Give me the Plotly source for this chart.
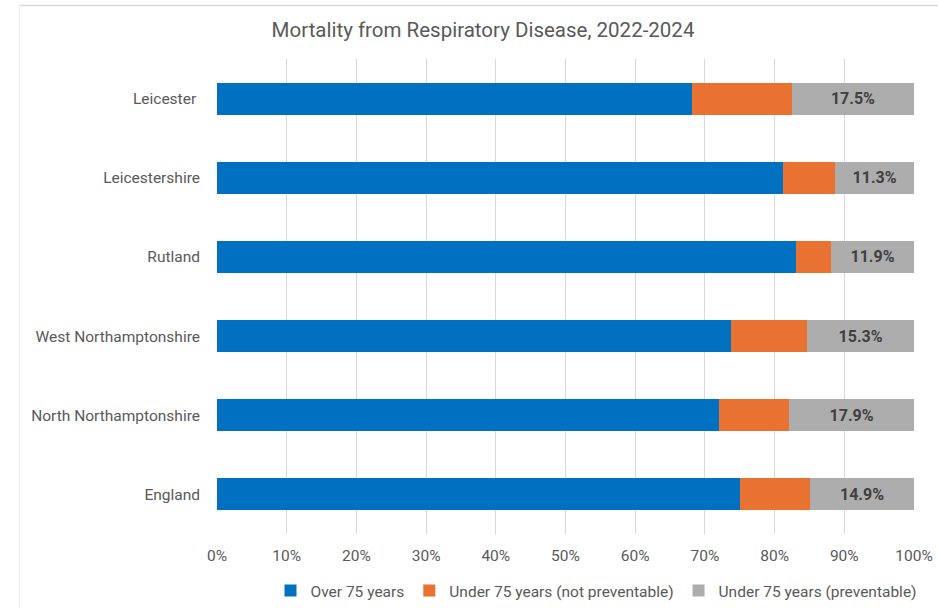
import plotly.graph_objects as go

areas = ["Leicester\u00a0", "Leicestershire", "Rutland", "West Northamptonshire",
         "North Northamptonshire", "England"]
over_75 = [68.1, 81.2, 83.0, 73.8, 72.0, 75.0]
under_75_not_prev = [14.4, 7.5, 5.1, 10.9, 10.1, 10.1]
under_75_prev = [17.5, 11.3, 11.9, 15.3, 17.9, 14.9]

series_names = ["Over 75 years", "Under 75 years (not preventable)",
                "Under 75 years (preventable)"]
series_colors = ["#0070C0", "#E97132", "#ADADAD"]

FONT = "Roboto"
TEXT = "#595959"

fig = go.Figure()
for name, vals, col in zip(series_names,
                           [over_75, under_75_not_prev, under_75_prev],
                           series_colors):
    is_prev = name == series_names[2]
    fig.add_trace(go.Bar(
        y=areas, x=vals, name=name, orientation="h",
        marker=dict(color=col, line=dict(width=0)),
        text=[f"{v:.1f}%" for v in vals] if is_prev else None,
        textposition="inside" if is_prev else "none",
        insidetextanchor="middle",
        textfont=dict(family=FONT, size=16, color="#404040", weight="bold"),
        hoverinfo="x+y+name",
    ))

fig.update_layout(
    barmode="stack",
    bargap=0.595,
    width=938, height=608,
    margin=dict(l=217, r=24, t=59, b=74),
    paper_bgcolor="white", plot_bgcolor="white",
    font=dict(family=FONT, size=15.5, color=TEXT),
    title=dict(text="Mortality from Respiratory Disease, 2022-2024",
               x=483 / 938, xanchor="center", y=1 - 30 / 608, yanchor="middle",
               font=dict(family=FONT, size=20.5, color=TEXT)),
    xaxis=dict(range=[0, 100], dtick=10, ticksuffix="%", showgrid=True,
               gridcolor="#D9D9D9", gridwidth=1, zeroline=False,
               showline=False, ticks="", tickfont=dict(size=15.5, color=TEXT),
               ticklabelstandoff=10, fixedrange=True, automargin=False),
    yaxis=dict(autorange="reversed", showgrid=False, showline=False, ticks="",
               tickfont=dict(size=15.5, color=TEXT), ticklabelstandoff=16,
               automargin=False),
    legend=dict(orientation="h", x=596 / 938, xanchor="center",
                xref="container", yref="container",
                y=1 - 591 / 608, yanchor="middle",
                font=dict(size=15.5, color=TEXT), traceorder="normal",
                itemwidth=30),
    showlegend=True,
    uniformtext=dict(minsize=8, mode="show"),
)

# faint frame along the top and left of the chart area
frame_col = "#D9D9D9"
plot_w = 938 - 217 - 24
top_y = 1 + (59 - 5.5) / 475
left_x = (19.5 - 217) / plot_w
fig.add_shape(type="line", xref="paper", yref="paper",
              x0=left_x, x1=1.1, y0=top_y, y1=top_y,
              line=dict(color=frame_col, width=1.5))
fig.add_shape(type="line", xref="paper", yref="paper",
              x0=left_x, x1=left_x, y0=-0.3, y1=top_y,
              line=dict(color="#EEEEEE", width=1))

fig.write_html("out.html")
